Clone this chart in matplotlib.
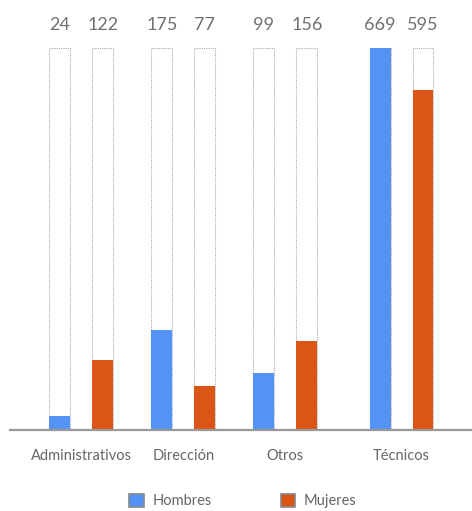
import matplotlib
matplotlib.use("Agg")
from matplotlib import pyplot as plt
from matplotlib.patches import Patch

# data
categories = ["Administrativos", "Dirección", "Otros", "Técnicos"]
hombres = [24, 175, 99, 669]
mujeres = [122, 77, 156, 595]
series_names = ["Hombres", "Mujeres"]

blue = "#5393F8"
orange = "#DA5516"
grey_text = "#666666"

plt.rcParams['font.family'] = ['Lato', 'DejaVu Sans']

# group centres (last group sits a bit further right in the original)
group_x = [0, 1, 2, 3.14]
bar_w = 0.205
off = 0.21
top = max(hombres + mujeres)

fig = plt.figure(figsize=(4.72, 5.11), dpi=100)
ax = fig.add_axes([0.021, 0.1585, 0.979, 0.906 - 0.1585])

x_h = [x - off for x in group_x]
x_m = [x + off for x in group_x]

# dotted outline boxes up to the max value
for xs in (x_h, x_m):
    ax.bar(xs, [top] * len(xs), width=bar_w, fill=False,
           edgecolor="#aaaaaa", linestyle=(0, (1, 1)), linewidth=0.8, zorder=1)

ax.bar(x_h, hombres, width=bar_w, color=blue, zorder=2)
ax.bar(x_m, mujeres, width=bar_w, color=orange, zorder=2)

# value labels above the boxes
for xs, vals in ((x_h, hombres), (x_m, mujeres)):
    for x, v in zip(xs, vals):
        ax.annotate(str(v), (x, top), xytext=(0, 11), textcoords="offset points",
                    ha="center", va="bottom", fontsize=13, color="#707070")

ax.set_xlim(-0.70, 3.83)
ax.set_ylim(0, top)
ax.set_xticks(group_x)
ax.set_xticklabels(categories, fontsize=10.5, color=grey_text)
ax.tick_params(axis="x", length=0, pad=14)
ax.set_yticks([])
for s in ("top", "right", "left"):
    ax.spines[s].set_visible(False)
ax.spines["bottom"].set_color("#999999")
ax.spines["bottom"].set_linewidth(1.6)
ax.spines["bottom"].set_zorder(3)

handles = [Patch(facecolor=blue, edgecolor="#888888", linewidth=1.2),
           Patch(facecolor=orange, edgecolor="#888888", linewidth=1.2)]
fig.legend(handles, series_names, loc="lower center", bbox_to_anchor=(0.515, -0.02),
           ncol=2, frameon=False, fontsize=10.5, labelcolor=grey_text,
           handlelength=1.0, handleheight=1.0, handletextpad=0.6,
           columnspacing=4.7)

fig.savefig("out.png", dpi=100)
